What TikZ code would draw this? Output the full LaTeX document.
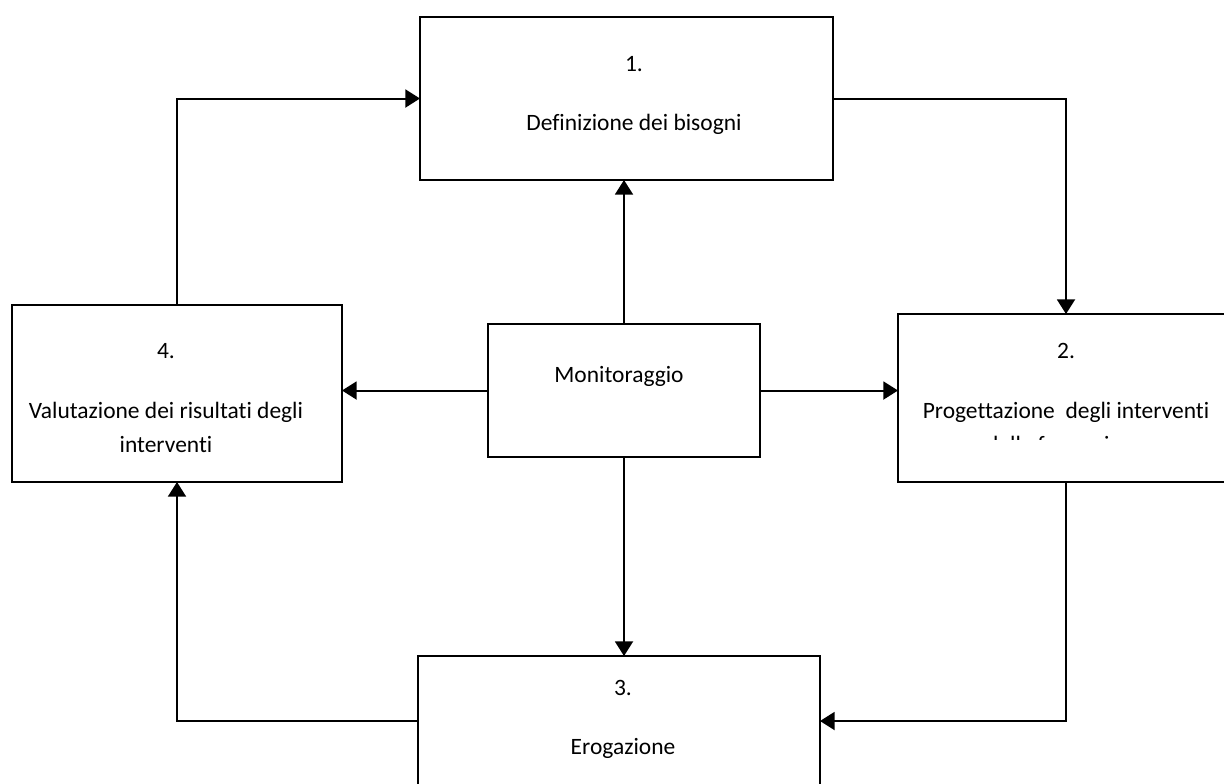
\documentclass[tikz,border=0pt]{standalone}
\usepackage{fontspec}
\setmainfont{Carlito}[Ligatures={NoCommon}]
\usetikzlibrary{arrows.meta}
\begin{document}
\begin{tikzpicture}[x=0.75pt,y=-0.75pt,
  box/.style={draw=black,line width=1.5pt,fill=white,inner sep=0pt,outer sep=0pt},
  lbl/.style={anchor=base,inner sep=0pt,font=\fontsize{17.6pt}{21pt}\selectfont},
  link/.style={draw=black,line width=1.5pt,-{Triangle[length=11pt,width=13.5pt]}}]
\useasboundingbox (0,0) rectangle (1224,783);
\clip (0,0) rectangle (1224,783);

% process boxes
\node[box,minimum width=309.75pt,minimum height=122.25pt] (b1) at (626.5,98.5) {};
\node[box,minimum width=252pt,minimum height=126pt] (b2) at (1066,398) {};
\node[box,minimum width=301.5pt,minimum height=97.5pt] (b3) at (619,721) {};
\node[box,minimum width=247.5pt,minimum height=132.75pt] (b4) at (177,393.5) {};
\node[box,minimum width=204pt,minimum height=99.75pt] (mon) at (624,390.5) {};

% labels
\node[lbl] (t1a) at (634,71) {1.};
\node[lbl] (t1b) at (634,130) {Definizione dei bisogni};
\node[lbl] (t2a) at (1066,358) {2.};
\node[lbl] (t2b) at (1066,418) {Progettazione\ \ degli interventi};
\begin{scope}
  \clip (898,300) rectangle (1230,439);
  \node[lbl] (t2c) at (1066,452) {della formazione};
\end{scope}
\node[lbl] (t3a) at (623,695) {3.};
\node[lbl] (t3b) at (623,754) {Erogazione};
\node[lbl] (t4a) at (166,358) {4.};
\node[lbl] (t4b) at (166,418) {Valutazione dei risultati degli};
\node[lbl] (t4c) at (166,452) {interventi};
\node[lbl] (tm) at (619,382) {Monitoraggio};

% cycle connectors
\draw[link] (b4.north) |- (b1.west);
\draw[link] (b1.east) -| (b2.north);
\draw[link] (b2.south) |- (b3.east);
\draw[link] (b3.west) -| (b4.south);

% monitoring connectors
\draw[link] (mon.north) -- (mon.north |- b1.south);
\draw[link] (mon.south) -- (mon.south |- b3.north);
\draw[link] (mon.west) -- (mon.west -| b4.east);
\draw[link] (mon.east) -- (mon.east -| b2.west);
\end{tikzpicture}
\end{document}
